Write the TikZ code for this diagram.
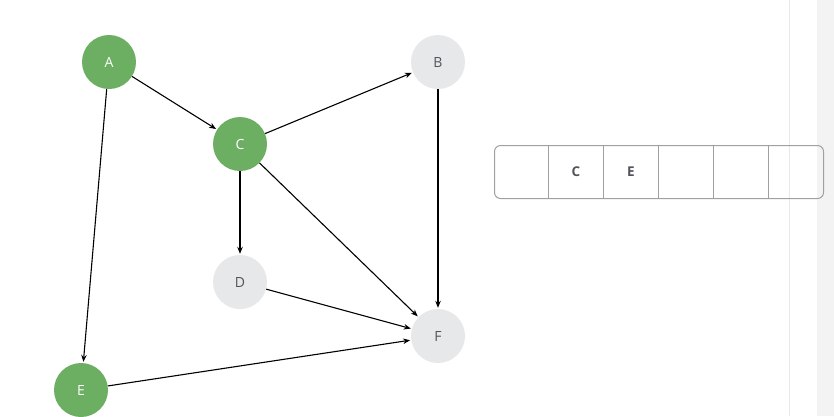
\documentclass[tikz,border=0pt]{standalone}
\usepackage{fontspec}
\setmainfont{Open Sans}
\usetikzlibrary{arrows.meta}
\definecolor{vgreen}{RGB}{108,175,99}
\definecolor{vgrey}{RGB}{231,232,234}
\definecolor{vtext}{RGB}{80,84,90}
\definecolor{qline}{RGB}{160,160,160}
\definecolor{sideline}{RGB}{232,232,232}
\definecolor{sideband}{RGB}{243,243,243}
\tikzset{
  vert/.style={circle, minimum size=54pt, inner sep=0pt, font=\fontsize{14}{16}\selectfont},
  visited/.style={vert, fill=vgreen, text=white},
  fresh/.style={vert, fill=vgrey, text=vtext},
  edge/.style={draw=black, line width=1.1pt, -{Stealth[length=7pt,width=5.5pt]}, shorten >=1pt},
  qcell/.style={font=\bfseries\fontsize{13.5}{15}\selectfont, text=vtext}
}
\begin{document}
\begin{tikzpicture}[x=1pt,y=-1pt]
\useasboundingbox (0,0) rectangle (834,416);
\clip (0,0) rectangle (834,416);
\fill[white] (0,0) rectangle (834,416);
\fill[sideband] (817,0) rectangle (834,416);
\draw[sideline, line width=1pt] (789,0) -- (789,416);
% nodes
\node[visited] (A) at (109,62) {A};
\node[fresh] (B) at (438,62) {B};
\node[visited] (C) at (240,144) {C};
\node[fresh] (D) at (240,282) {D};
\node[visited] (E) at (81,390) {E};
\node[fresh] (F) at (438,336) {F};
% edges
\draw[edge] (A) -- (C);
\draw[edge] (A) -- (E);
\draw[edge] (C) -- (B);
\draw[edge] (C) -- (D);
\draw[edge] (C) -- (F);
\draw[edge] (B) -- (F);
\draw[edge] (D) -- (F);
\draw[edge] (E) -- (F);
% queue
\draw[qline, line width=1pt, rounded corners=6pt] (494.5,145.5) rectangle (823.5,198.5);
\foreach \x in {548.5,603.5,658.5,713.5,768.5} \draw[qline, line width=1pt] (\x,145.5) -- (\x,198.5);
\node[qcell] (q2) at (576,172) {C};
\node[qcell] (q3) at (631,172) {E};
\end{tikzpicture}
\end{document}
